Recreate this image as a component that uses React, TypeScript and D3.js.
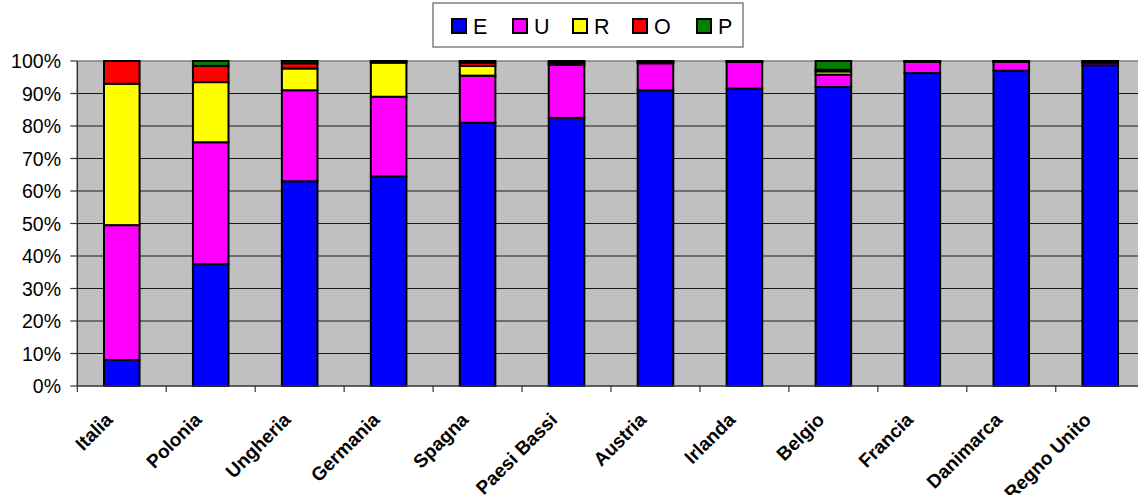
import React from "react";
import * as d3 from "d3";

const categories = ["Italia", "Polonia", "Ungheria", "Germania", "Spagna", "Paesi Bassi", "Austria", "Irlanda", "Belgio", "Francia", "Danimarca", "Regno Unito"];
const seriesKeys = ["E", "U", "R", "O", "P"];
const seriesColors = ["#0000FF", "#FF00FF", "#FFFF00", "#FF0000", "#008000"];
const valuesE = [8, 37.5, 63, 64.5, 81, 82.5, 91, 91.5, 92, 96.3, 97, 98.7];
const valuesU = [41.5, 37.5, 28, 24.5, 14.5, 16.3, 8.3, 8.2, 3.8, 3.5, 2.8, 0.8];
const valuesR = [43.5, 18.5, 6.7, 10.5, 3, 0.4, 0.2, 0.1, 1, 0.1, 0.1, 0.1];
const valuesO = [7, 5, 1.6, 0.3, 1, 0.5, 0.3, 0.1, 0.5, 0.05, 0.05, 0.2];
const valuesP = [0, 1.5, 0.7, 0.2, 0.5, 0.3, 0.2, 0.1, 2.7, 0.05, 0.05, 0.2];
const yTicks = [0, 10, 20, 30, 40, 50, 60, 70, 80, 90, 100];

const W = 1138;
const H = 495;
const left = 77.3;
const step = 88.95;
const top = 61;
const bottom = 386;

export default function App() {
  const rows = categories.map((c, i) => ({
    cat: c,
    E: valuesE[i],
    U: valuesU[i],
    R: valuesR[i],
    O: valuesO[i],
    P: valuesP[i],
  }));
  const stack = d3.stack<any>().keys(seriesKeys);
  const layers = stack(rows);
  const x = d3
    .scaleBand<string>()
    .domain(categories)
    .range([left, left + step * categories.length])
    .paddingInner(0.6)
    .paddingOuter(0.3);
  const y = d3.scaleLinear().domain([0, 100]).range([bottom, top]);
  const plotRight = left + step * categories.length;
  const font = "Arial, 'Liberation Sans', sans-serif";
  const legendX = [452, 513, 573, 633, 697];

  return (
    <svg width={W} height={H} style={{ position: "absolute", left: 0, top: 0, background: "#fff" }} fontFamily={font}>
      <rect x={left} y={top} width={plotRight - left} height={bottom - top} fill="#C0C0C0" />
      <line x1={left} x2={plotRight} y1={top} y2={top} stroke="#808080" strokeWidth={1.5} />
      {yTicks.map((t) => (
        <g key={t}>
          {t > 0 && t < 100 && (
            <line x1={left} x2={plotRight} y1={y(t)} y2={y(t)} stroke="#1a1a1a" strokeWidth={1.2} />
          )}
          <line x1={left - 7} x2={left} y1={y(t)} y2={y(t)} stroke="#333" strokeWidth={1.2} />
          <text x={61} y={y(t)} dy="0.36em" textAnchor="end" fontSize={19.5} fill="#000">
            {t}%
          </text>
        </g>
      ))}
      {layers.map((layer, li) => (
        <g key={seriesKeys[li]} fill={seriesColors[li]}>
          {layer.map((d, i) => {
            const h = y(d[0]) - y(d[1]);
            if (h <= 0) return null;
            return (
              <rect
                key={i}
                x={x(categories[i])}
                y={y(d[1])}
                width={x.bandwidth()}
                height={h}
                stroke="#000"
                strokeWidth={2}
              />
            );
          })}
        </g>
      ))}
      <line x1={left} x2={left} y1={top} y2={bottom} stroke="#333" strokeWidth={1.5} />
      <line x1={left} x2={plotRight} y1={bottom} y2={bottom} stroke="#333" strokeWidth={1.5} />
      {categories.map((c, i) => (
        <line key={"t" + c} x1={left + i * step} x2={left + i * step} y1={bottom} y2={bottom + 6} stroke="#333" strokeWidth={1.2} />
      ))}
      {categories.map((c) => {
        const cx = (x(c) as number) + x.bandwidth() / 2;
        const ax = cx - 8;
        const ay = 421;
        return (
          <text
            key={"l" + c}
            x={ax}
            y={ay}
            transform={`rotate(-45 ${ax} ${ay})`}
            textAnchor="end"
            fontSize={19}
            fontWeight="bold"
            fill="#000"
          >
            {c}
          </text>
        );
      })}
      <rect x={433} y={3} width={310} height={44} fill="#fff" stroke="#808080" strokeWidth={1.5} />
      {seriesKeys.map((k, i) => (
        <g key={"lg" + k}>
          <rect x={legendX[i]} y={19} width={14} height={14} fill={seriesColors[i]} stroke="#000" strokeWidth={2} />
          <text x={legendX[i] + 21} y={26} dy="0.36em" fontSize={21.5} fill="#000">
            {k}
          </text>
        </g>
      ))}
    </svg>
  );
}
